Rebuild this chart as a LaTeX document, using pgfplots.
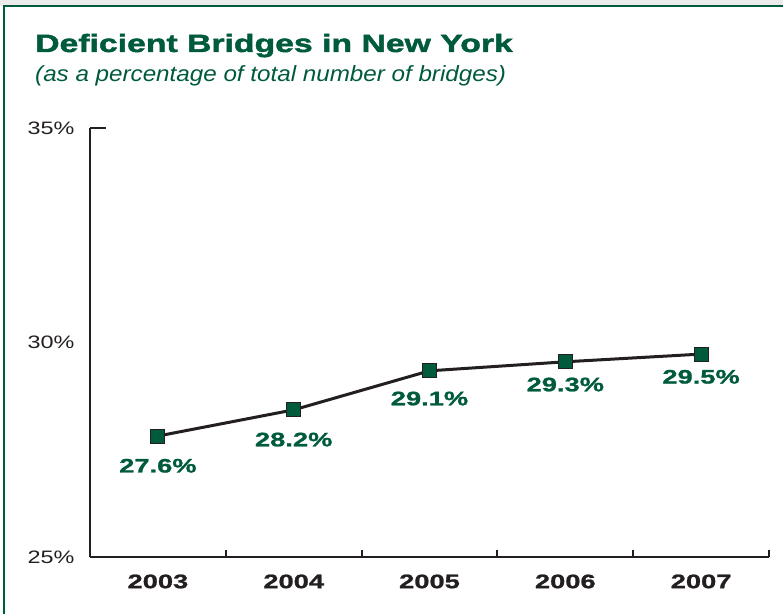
\documentclass[border=0pt]{standalone}
\usepackage{pgfplots}
\usepackage{pgfplotstable}
\pgfplotsset{compat=1.18}
\usepackage{fontspec}
\setmainfont{Liberation Sans}
\newfontfamily\widefont[FakeStretch=1.3]{Liberation Sans}
\newfontfamily\heavyfont[FakeStretch=1.4, FakeBold=1.2]{Liberation Sans Bold}
\newfontfamily\titlefont[FakeStretch=1.35, FakeBold=1.8]{Liberation Sans Bold}
\newfontfamily\subfont[FakeStretch=1.1]{Liberation Sans}
\definecolor{nygreen}{RGB}{0,90,60}
\definecolor{ink}{RGB}{35,31,32}

% marker heights as drawn; lab = printed value
\pgfplotstableread{
x y dy lab
0 27.82 -19 27.6
1 28.43 -19 28.2
2 29.34 -17 29.1
3 29.55 -12 29.3
4 29.73 -12 29.5
}\bridges

\begin{document}
\begin{tikzpicture}
\path[use as bounding box] (0,0) rectangle (783pt,614pt);
\fill[black!8] (0,608pt) rectangle (783pt,614pt);
\draw[nygreen, line width=2.2pt] (4pt,0) -- (4pt,608pt) -- (783pt,608pt);
\node[anchor=base west, text=nygreen, inner sep=0pt, font={\titlefont\fontsize{25}{28}\selectfont}]
  at (35pt,562pt) {Deficient Bridges in New York};
\node[anchor=base west, text=nygreen, inner sep=0pt, font={\subfont\itshape\fontsize{22}{24}\selectfont}]
  at (35pt,532pt) {(as a percentage of total number of bridges)};
\begin{axis}[
  at={(90pt,57pt)}, anchor=south west,
  scale only axis, width=679pt, height=429pt,
  xmin=-0.5, xmax=4.5, ymin=25, ymax=35,
  axis x line*=bottom, axis y line*=left,
  axis line style={-, line width=2.6pt, ink},
  clip=false,
  tick align=inside,
  major tick length=0pt,
  xtick={0,1,2,3,4},
  xticklabels={2003,2004,2005,2006,2007},
  xticklabel style={font={\heavyfont\fontsize{19.5}{22}\selectfont}, text=ink, yshift=-14pt},
  ytick={25,30,35},
  yticklabels={25\%,30\%,35\%},
  yticklabel style={font={\widefont\fontsize{18}{22}\selectfont}, text=ink, xshift=-12pt},
  extra x ticks={-0.5,0.5,1.5,2.5,3.5,4.5},
  extra x tick labels={},
  extra x tick style={major tick length=7pt, tick style={line width=2pt, ink}},
  extra y ticks={35},
  extra y tick labels={},
  extra y tick style={major tick length=16pt, tick style={line width=2.6pt, ink}},
  /pgf/number format/assume math mode=true,
]
\addplot[ink, line width=3pt,
  mark=square*, mark size=7pt,
  mark options={fill=nygreen, draw=ink, line width=1pt},
  point meta=explicit symbolic,
  visualization depends on={\thisrow{dy} \as \dy},
  nodes near coords={\pgfplotspointmeta\%},
  nodes near coords style={anchor=north, yshift=\dy pt, text=nygreen,
    font={\heavyfont\fontsize{19.5}{22}\selectfont}},
] table[x=x, y=y, meta=lab] {\bridges};
\end{axis}
\end{tikzpicture}
\end{document}
